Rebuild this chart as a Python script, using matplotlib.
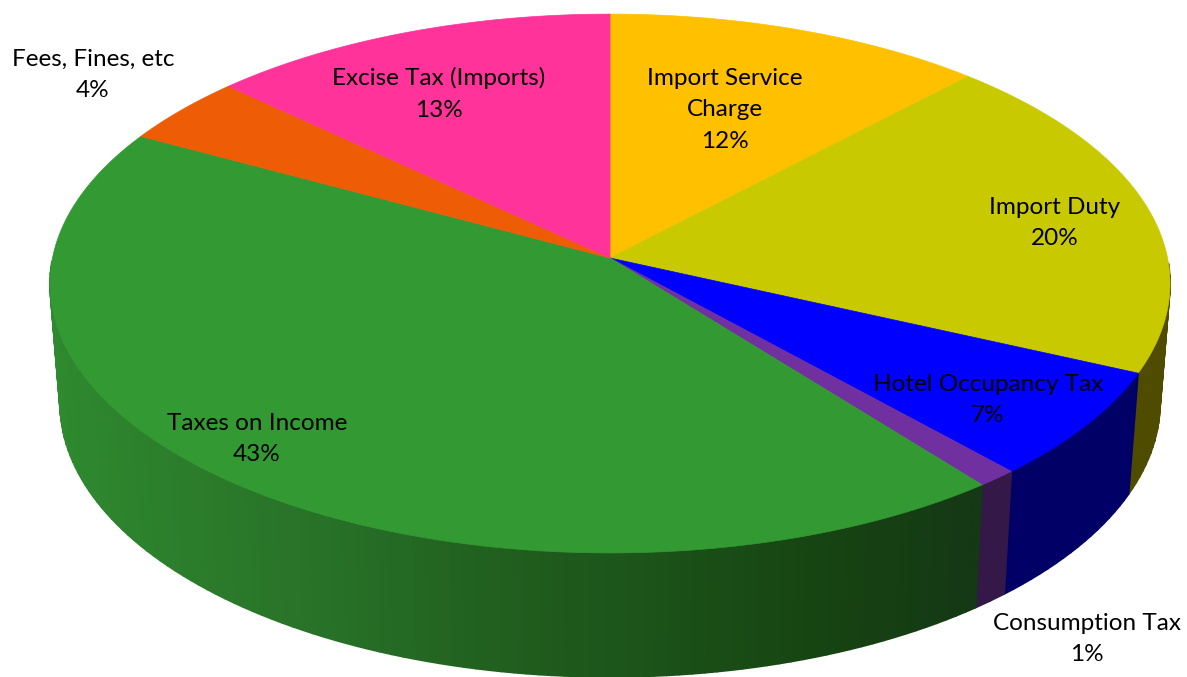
#!/usr/bin/env python3
# -*- coding: utf-8 -*-
"""Revenue sources, drawn as a tilted 3D pie on a pixel-sized axes."""

import matplotlib.pyplot as plt
import numpy as np
from matplotlib.collections import PolyCollection
from matplotlib.colors import LinearSegmentedColormap
from matplotlib.patches import Polygon

plt.switch_backend('Agg')
plt.rcParams['font.family'] = ['Lato', 'DejaVu Sans']

# Slice data, clockwise from 12 o'clock
categories = ['Import Service\nCharge', 'Import Duty', 'Hotel Occupancy Tax',
              'Consumption Tax', 'Taxes on Income', 'Fees, Fines, etc',
              'Excise Tax (Imports)']
percent_labels = ['12%', '20%', '7%', '1%', '43%', '4%', '13%']
# shares as drawn (a bit off the rounded labels)
shares = [12.05, 19.75, 6.53, 1.07, 43.5, 4.1, 13.0]

top_colors = ['#FFC000', '#C9C900', '#0000FF', '#7030A0', '#339933', '#EE5C05', '#FF3399']
wall_colors = ['#7F6000', '#4F4C00', '#000066', '#331848', None, '#7A3003', '#80194C']

# Green wall gets darker from left to right
green_wall = LinearSegmentedColormap.from_list(
    'green_wall', [(0.0, '#2F8A2F'), (0.32, '#276F27'), (0.47, '#21601F'),
                   (0.82, '#164412'), (1.0, '#153615')])

label_xy = [(725, 110), (1055, 223), (988, 400), (1087, 639), (257, 439), (93, 75), (439, 94)]

# Perspective of the disc, in pixels
PERSP = 0.0947
TOP = dict(cx=610, cy=258, a=557.5, q=267)
BOTTOM = dict(cx=610, cy=377, a=547.5, q=271.5)
WALL_X = (50, 1000)


def project(theta, disc):
    """Angle clockwise from 12 o'clock -> pixel position on a disc rim"""
    den = 1 + PERSP * np.cos(theta)
    x = disc['cx'] + disc['a'] * np.sin(theta) / den
    y = disc['cy'] - disc['q'] * np.cos(theta) / den
    return x, y


fig = plt.figure(figsize=(11.87, 6.77), dpi=100)
ax = fig.add_axes([0, 0, 1, 1])
ax.set_xlim(0, 1187)
ax.set_ylim(677, 0)
ax.axis('off')

edges = np.radians(np.cumsum([0] + shares) * 360 / sum(shares))

# Side wall first, only the front half of the rim shows
for i in range(len(shares)):
    thetas = np.linspace(edges[i], edges[i + 1], max(int(shares[i] * 3), 2))
    thetas = thetas[np.cos(thetas) < 0]
    if len(thetas) < 2:
        continue
    tx, ty = project(thetas, TOP)
    bx, by = project(thetas, BOTTOM)
    strips = []
    colors = []
    for j in range(len(thetas) - 1):
        strips.append([(tx[j], ty[j]), (tx[j + 1], ty[j + 1]), (bx[j + 1], by[j + 1]), (bx[j], by[j])])
        if wall_colors[i] is None:
            colors.append(green_wall(np.clip((bx[j] - WALL_X[0]) / (WALL_X[1] - WALL_X[0]), 0, 1)))
        else:
            colors.append(wall_colors[i])
    ax.add_collection(PolyCollection(strips, facecolors=colors, edgecolors=colors, linewidths=1.2))

# Top face
for i in range(len(shares)):
    thetas = np.linspace(edges[i], edges[i + 1], max(int(shares[i] * 6), 2))
    x, y = project(thetas, TOP)
    pts = [(TOP['cx'], TOP['cy'])] + list(zip(x, y))
    ax.add_patch(Polygon(pts, closed=True, facecolor=top_colors[i], edgecolor=top_colors[i], linewidth=0.5))

# Labels
for name, pct, (x, y) in zip(categories, percent_labels, label_xy):
    ax.text(x, y, name + '\n' + pct, ha='center', va='center', fontsize=17.5,
            color='black', linespacing=1.62)

plt.savefig('out.png', dpi=100, facecolor='white')
